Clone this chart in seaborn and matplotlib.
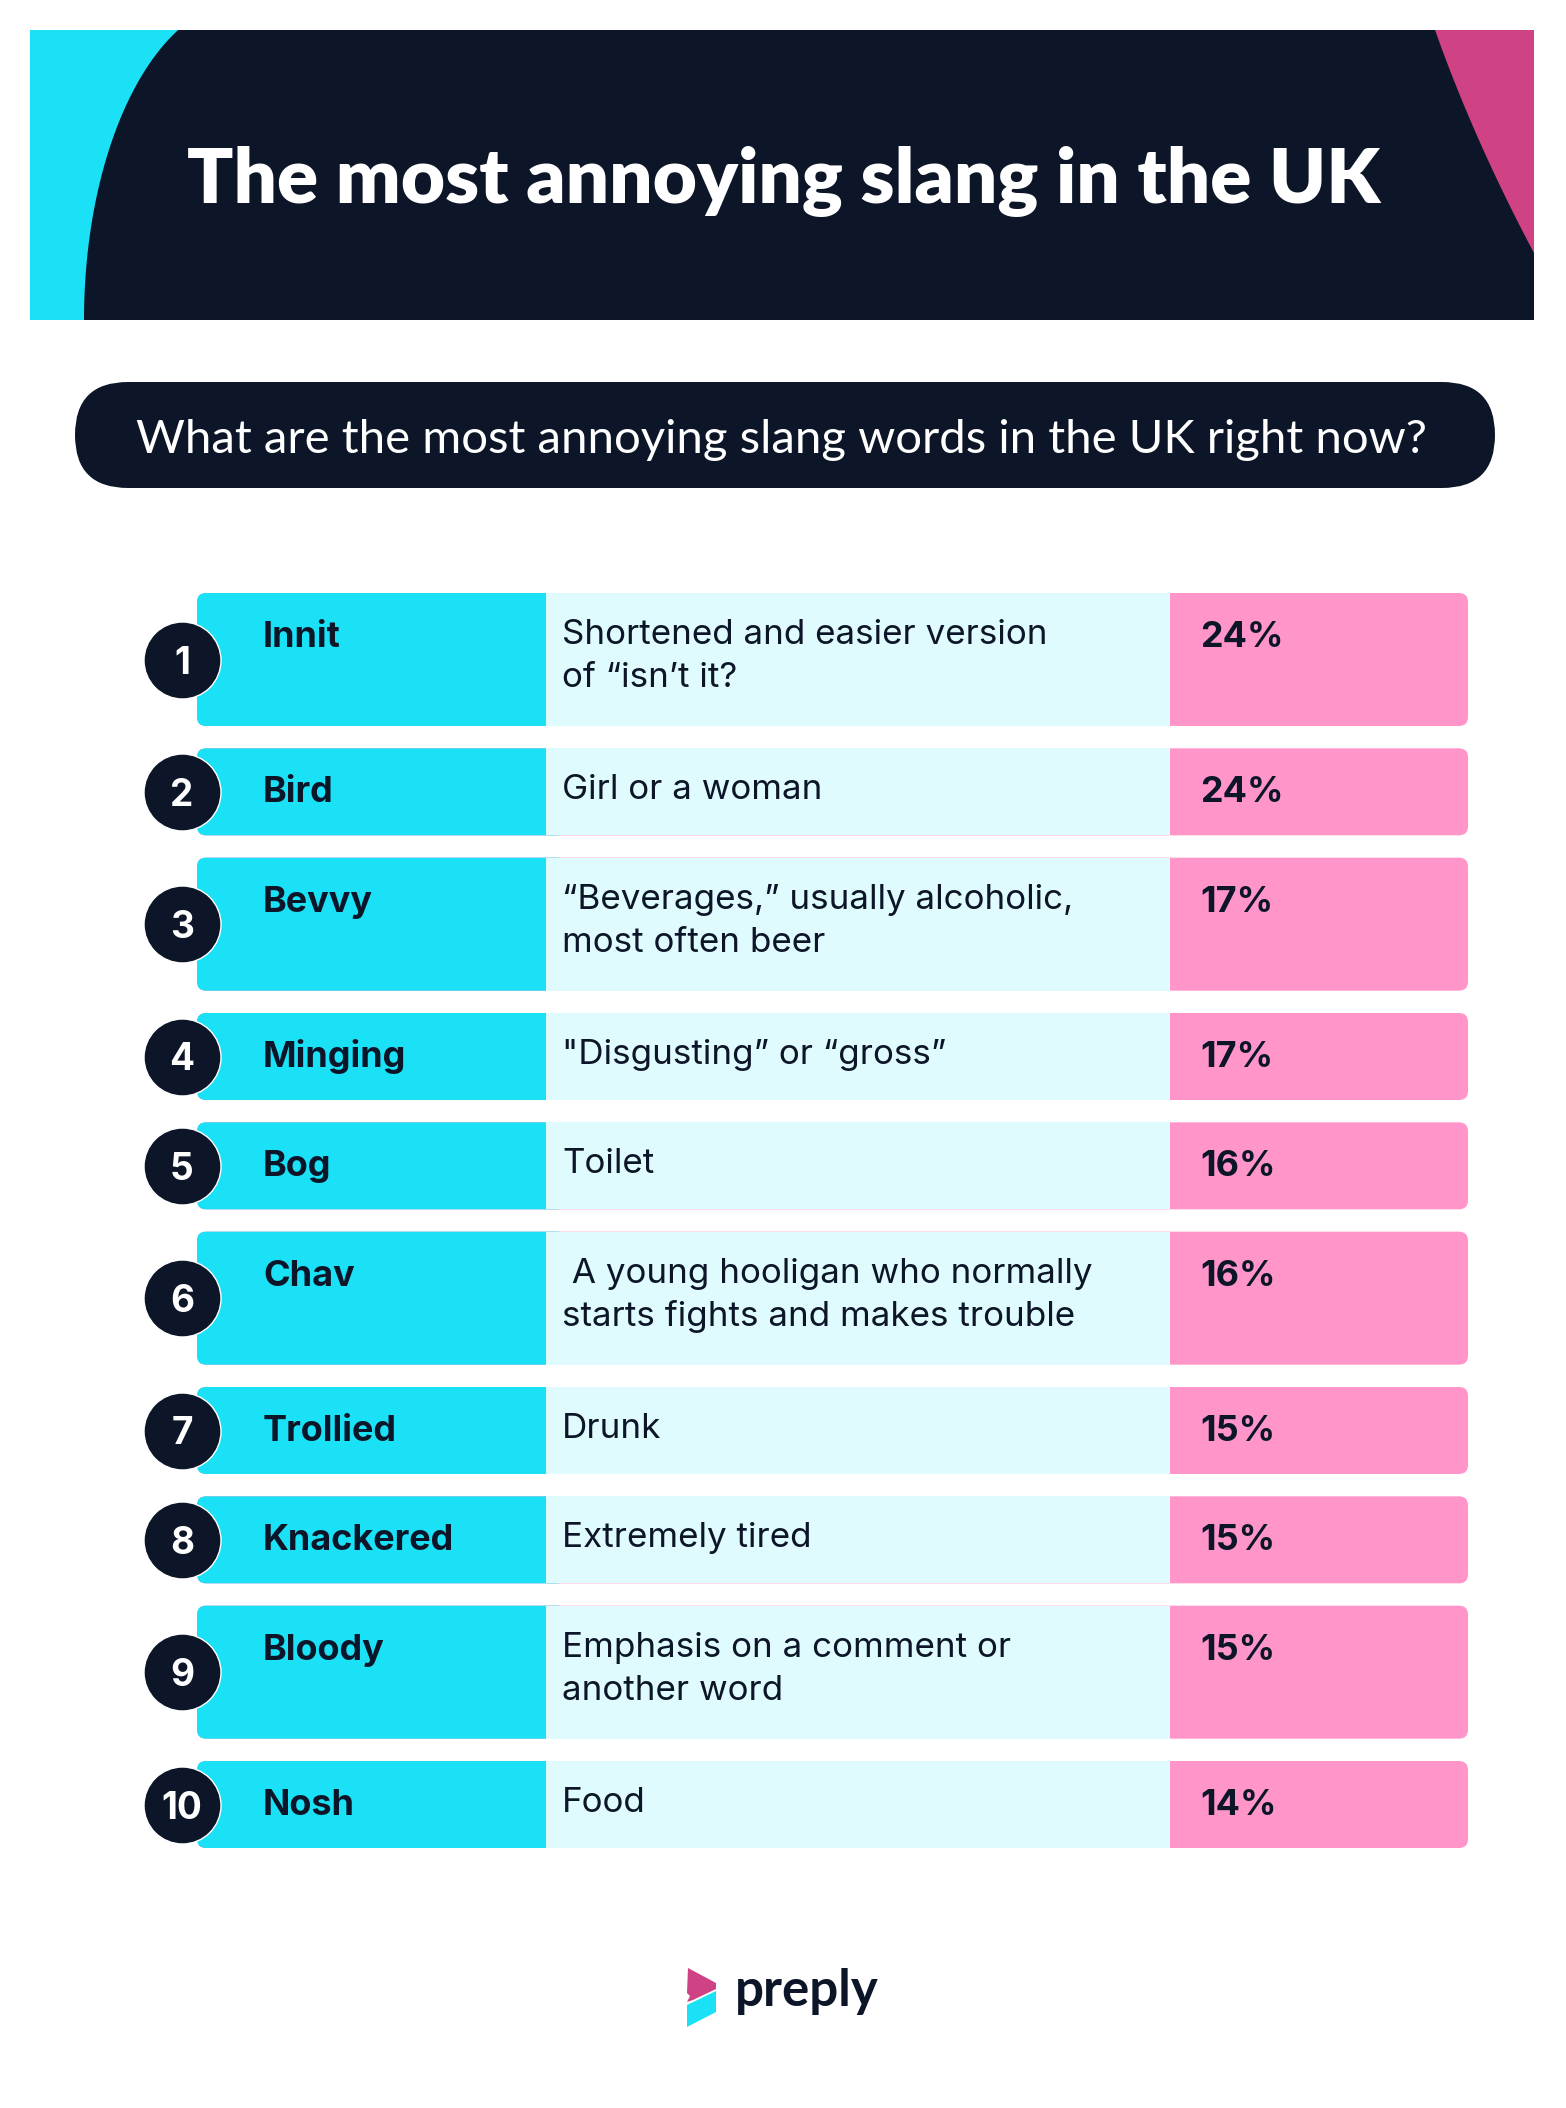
import numpy as np
import pandas as pd
import matplotlib.pyplot as plt
import seaborn as sns
from matplotlib.patches import FancyBboxPatch, Rectangle, Polygon

# ============================
# DATA
# ============================

RANKS = [1, 2, 3, 4, 5, 6, 7, 8, 9, 10]
WORDS = ["Innit", "Bird", "Bevvy", "Minging", "Bog",
         "Chav", "Trollied", "Knackered", "Bloody", "Nosh"]
DESCRIPTIONS = [
    "Shortened and easier version\nof \u201cisn\u2019t it?",
    "Girl or a woman",
    "\u201cBeverages,\u201d usually alcoholic,\nmost often beer",
    "\"Disgusting\u201d or \u201cgross\u201d",
    "Toilet",
    " A young hooligan who normally\nstarts fights and makes trouble",
    "Drunk",
    "Extremely tired",
    "Emphasis on a comment or\nanother word",
    "Food",
]
SHARES = [24, 24, 17, 17, 16, 16, 15, 15, 15, 14]

TITLE = "The most annoying slang in the UK"
SUBTITLE = "What are the most annoying slang words in the UK right now?"
BRAND = "preply"

# ============================
# STYLE / LAYOUT (pixels)
# ============================

W, H = 1566, 2108
NAVY = "#0c1628"
CYAN = "#1ae1f6"
LIGHT = "#dffbfd"
PINK = "#ff95c8"
MAGENTA = "#cf4283"

ROW_LEFT, COL2, COL3, ROW_RIGHT = 197, 546, 1170, 1468
FIRST_TOP, LAST_BOTTOM = 593, 1848
TALL, SHORT = 133, 87
CIRCLE_X = 182
WORD_X, DESC_X, PCT_X = 263, 562, 1200
BASE_OFF = 54        # baseline offset from row top
LINE_GAP = 43

PX = 0.72            # px -> pt at dpi 100

sns.set_theme(style="white")
plt.rcParams["font.family"] = ["Inter", "DejaVu Sans"]

fig = plt.figure(figsize=(W / 100, H / 100), dpi=100)
ax = fig.add_axes([0, 0, 1, 1])
ax.set_xlim(0, W)
ax.set_ylim(H, 0)
ax.axis("off")

# ============================
# HEADER
# ============================

ax.add_patch(Rectangle((30, 30), 1504, 290, color=NAVY, lw=0, zorder=1))

# cyan sliver on the left, bounded by an elliptic arc
yy = np.linspace(30, 320, 60)
xx = 247 - 163 * np.sqrt(1 - ((yy - 320) / 320) ** 2)
left_pts = [(30, 30)] + list(zip(xx, yy)) + [(30, 320)]
ax.add_patch(Polygon(left_pts, closed=True, color=CYAN, lw=0, zorder=2))

# magenta corner on the right
t = np.linspace(0, 1, 40)
bx = (1 - t) ** 2 * 1435 + 2 * (1 - t) * t * 1474 + t ** 2 * 1534
by = (1 - t) ** 2 * 30 + 2 * (1 - t) * t * 140 + t ** 2 * 253
right_pts = list(zip(bx, by)) + [(1534, 30)]
ax.add_patch(Polygon(right_pts, closed=True, color=MAGENTA, lw=0, zorder=2))

ax.text(784, 203, TITLE, color="white", fontsize=55, fontweight="heavy",
        family=["Lato", "DejaVu Sans"], ha="center", va="baseline", zorder=3)

# subtitle pill
ax.add_patch(FancyBboxPatch((75, 382), 1420, 106,
                            boxstyle="round,pad=0,rounding_size=53",
                            color=NAVY, lw=0, zorder=1))
ax.text(782, 453, SUBTITLE, color="white", fontsize=34,
        family=["Lato", "DejaVu Sans"], ha="center", va="baseline", zorder=3)

# ============================
# ROWS
# ============================

n_lines = [d.count("\n") + 1 for d in DESCRIPTIONS]
heights = [TALL if n > 1 else SHORT for n in n_lines]
gap = (LAST_BOTTOM - FIRST_TOP - sum(heights)) / (len(heights) - 1)
tops = FIRST_TOP + np.concatenate([[0], np.cumsum(np.array(heights[:-1]) + gap)])

for top, h, word, desc, share in zip(tops, heights, WORDS, DESCRIPTIONS, SHARES):
    ax.add_patch(FancyBboxPatch((ROW_LEFT, top), ROW_RIGHT - ROW_LEFT, h,
                                boxstyle="round,pad=0,rounding_size=9",
                                color=PINK, lw=0, zorder=1))
    ax.add_patch(FancyBboxPatch((ROW_LEFT, top), COL2 - ROW_LEFT + 20, h,
                                boxstyle="round,pad=0,rounding_size=9",
                                color=CYAN, lw=0, zorder=1.1))
    ax.add_patch(Rectangle((COL2, top), COL3 - COL2, h,
                           color=LIGHT, lw=0, zorder=1.2))

    base = top + BASE_OFF
    ax.text(WORD_X, base, word, color=NAVY, fontsize=36 * PX,
            fontweight="bold", va="baseline", zorder=3)
    for i, line in enumerate(desc.split("\n")):
        ax.text(DESC_X, base - 3 + i * LINE_GAP, line, color=NAVY,
                fontsize=35 * PX, va="baseline", zorder=3)
    ax.text(PCT_X, base, f"{share}%", color=NAVY, fontsize=36 * PX,
            fontweight="bold", va="baseline", zorder=3)

# rank badges
badges = pd.DataFrame({"rank": RANKS, "x": CIRCLE_X,
                       "y": tops + np.array(heights) / 2})
sns.scatterplot(data=badges, x="x", y="y", s=(77 * PX) ** 2, color=NAVY,
                edgecolor="white", linewidth=1, ax=ax, zorder=4, legend=False)
for _, r in badges.iterrows():
    ax.text(r["x"], r["y"], str(int(r["rank"])), color="white",
            fontsize=37 * PX, fontweight="bold", ha="center",
            va="center_baseline", zorder=5)
ax.set_xlim(0, W)
ax.set_ylim(H, 0)
ax.axis("off")

# ============================
# LOGO
# ============================

ax.add_patch(Polygon([(688, 1968), (716, 1983), (716, 1989), (693, 2000),
                      (687, 2002), (690, 1996), (687, 1993)],
                     closed=True, color=MAGENTA, lw=0))
ax.add_patch(Polygon([(687, 2005), (716, 1991), (716, 2012), (687, 2027)],
                     closed=True, color=CYAN, lw=0))
ax.text(735, 2006, BRAND, color=NAVY, fontsize=51 * PX, fontweight="bold",
        family=["Lato", "DejaVu Sans"], va="baseline")

fig.savefig("out.png", dpi=100, facecolor="white")
